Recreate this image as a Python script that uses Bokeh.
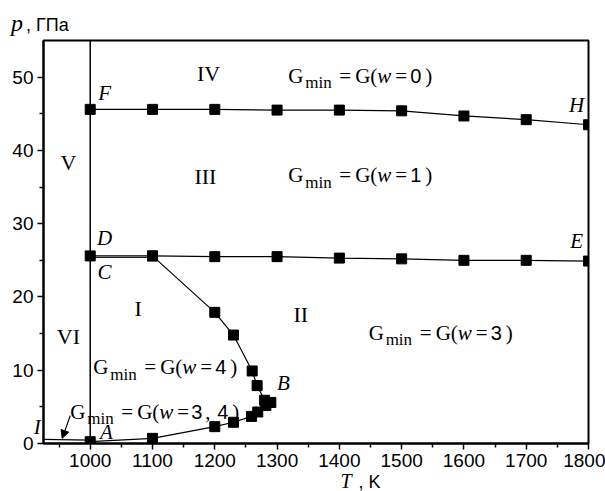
from bokeh.plotting import figure
from bokeh.models import Range1d, FixedTicker, Label, Arrow, NormalHead
from bokeh.embed import file_html
from bokeh.resources import INLINE

# ---- data ----
T_FH = [1000, 1100, 1200, 1300, 1400, 1500, 1600, 1700, 1800]
p_FH = [45.6, 45.6, 45.6, 45.5, 45.5, 45.4, 44.7, 44.2, 43.5]

T_DE = [1000, 1100, 1200, 1300, 1400, 1500, 1600, 1700, 1800]
p_DE = [25.6, 25.6, 25.5, 25.5, 25.3, 25.2, 25.0, 25.0, 24.9]

T_C = [1000, 1100]
p_C = [25.4, 25.4]

T_curve = [1100, 1200, 1230, 1260, 1268, 1280, 1290, 1282, 1269, 1259, 1230, 1200, 1100, 1000]
p_curve = [25.6, 17.9, 14.8, 9.9, 7.9, 5.9, 5.6, 5.2, 4.3, 3.7, 2.9, 2.3, 0.7, 0.25]

T_I = [925, 1000]
p_I = [0.55, 0.45]

T_vline = [1000, 1000]
p_vline = [0, 55]

arrow_T = [968, 955]
arrow_p = [3.8, 0.7]

x_ticks = [1000, 1100, 1200, 1300, 1400, 1500, 1600, 1700, 1800]
x_minor = [950, 1050, 1150, 1250, 1350, 1450, 1550, 1650, 1750]
y_ticks = [0, 10, 20, 30, 40, 50]
y_minor = [5, 15, 25, 35, 45]

SERIF = "Liberation Serif"
SANS = "Liberation Sans"

p = figure(width=605, height=491, x_range=Range1d(925, 1800), y_range=Range1d(0, 55),
           output_backend="svg", toolbar_location=None,
           min_border_left=43, min_border_right=17, min_border_top=39, min_border_bottom=48)
p.xgrid.visible = False
p.ygrid.visible = False
p.outline_line_color = "black"
p.outline_line_width = 2
p.background_fill_color = "white"
p.border_fill_color = "white"

for ax in (p.xaxis[0], p.yaxis[0]):
    ax.axis_line_width = 2
    ax.axis_line_color = "black"
    ax.major_tick_in = 0
    ax.major_tick_out = 6
    ax.minor_tick_in = 0
    ax.minor_tick_out = 4
    ax.major_tick_line_width = 1.5
    ax.minor_tick_line_width = 1.5
    ax.major_label_text_font = SANS
    ax.major_label_text_font_size = "19px"
    ax.major_label_text_color = "black"
    ax.major_label_standoff = 4
p.xaxis[0].ticker = FixedTicker(ticks=x_ticks, minor_ticks=x_minor)
p.yaxis[0].ticker = FixedTicker(ticks=y_ticks, minor_ticks=y_minor)

# lines
p.line(T_vline, p_vline, line_color="black", line_width=1.5)
p.line(T_I, p_I, line_color="black", line_width=1.2)
p.line(T_FH, p_FH, line_color="black", line_width=1.2)
p.line(T_DE, p_DE, line_color="black", line_width=1.2)
p.line(T_C, p_C, line_color="black", line_width=1.0)
p.line(T_curve, p_curve, line_color="black", line_width=1.2)

# markers
p.scatter(T_FH, p_FH, marker="square", size=10, color="black")
p.scatter(T_DE, p_DE, marker="square", size=10, color="black")
p.scatter(T_curve, p_curve, marker="square", size=10, color="black")

# arrow
p.add_layout(Arrow(x_start=arrow_T[0], y_start=arrow_p[0], x_end=arrow_T[1], y_end=arrow_p[1],
                   line_color="black", line_width=1.2,
                   end=NormalHead(size=8, fill_color="black", line_color="black")))


def mk(text, x, y, dx=0, dy=0, size=21, font=SERIF, style="normal", align="left",
       baseline="alphabetic", lh=1.2):
    return Label(x=x, y=y, x_offset=dx, y_offset=dy, text=text, text_font=font,
                 text_font_size=f"{size}px", text_font_style=style, text_align=align,
                 text_baseline=baseline, text_color="black", text_line_height=lh)


def lab(*a, place="center", **k):
    p.add_layout(mk(*a, **k), place)


def gmin(x, y, tail):
    pieces = [("G", 0, 0, 21, "normal", SERIF), ("min", 17, -7, 17, "normal", SERIF),
              ("=", 51, 0, 21, "normal", SERIF), ("G", 67, 0, 21, "normal", SERIF),
              ("(", 82, 0, 21, "normal", SERIF), ("w", 89, 0, 21, "italic", SERIF),
              ("=", 107, 0, 21, "normal", SERIF)]
    if tail == "3,4":
        pieces += [("3", 121, 0, 20, "normal", SANS), (",", 135, 0, 21, "normal", SERIF),
                   ("4", 147, 0, 20, "normal", SANS), (")", 162, 0, 21, "normal", SERIF)]
    else:
        pieces += [(tail, 122, 0, 20, "normal", SANS), (")", 137, 0, 21, "normal", SERIF)]
    for t, dx, dy, s, st, f in pieces:
        lab(t, x, y, dx=dx, dy=dy, size=s, style=st, font=f)


gmin(1318, 50.2, "0")
gmin(1318, 36.6, "1")
gmin(1447, 15.1, "3")
gmin(1005, 10.4, "4")
gmin(968, 4.3, "3,4")

# region numerals
for t, x, y in [("IV", 1190, 50.5), ("V", 965, 38.3), ("III", 1185, 36.5),
                ("I", 1077, 18.4), ("II", 1338, 17.6), ("VI", 965, 14.6)]:
    lab(t, x, y, size=22, align="center", baseline="middle")

# point letters
for t, x, y in [("F", 1023, 47.8), ("H", 1781, 46.2), ("D", 1023, 28.0), ("C", 1023, 23.4),
                ("E", 1781, 27.6), ("B", 1310, 8.2), ("A", 1026, 1.6)]:
    lab(t, x, y, size=21, style="italic", align="center", baseline="middle")

# labels outside the frame (placed in side panels so they are not clipped)
lab("I", 915, 2.3, size=21, style="italic", align="center", baseline="middle", place="left", lh=0.2)
lab("p", 873, 57.4, size=24, style="italic", baseline="middle", place="right", lh=0.2)
lab(", ГПа", 873, 57.1, dx=15, size=18, font=SANS, baseline="middle", place="above", lh=0.2)
lab("T", 1402, -5.1, size=20, style="italic", baseline="middle", place="below", lh=0.2)
lab(", K", 1402, -5.2, dx=18, size=18, font=SANS, baseline="middle", place="above", lh=0.2)

open("out.html", "w").write(file_html(p, INLINE))
